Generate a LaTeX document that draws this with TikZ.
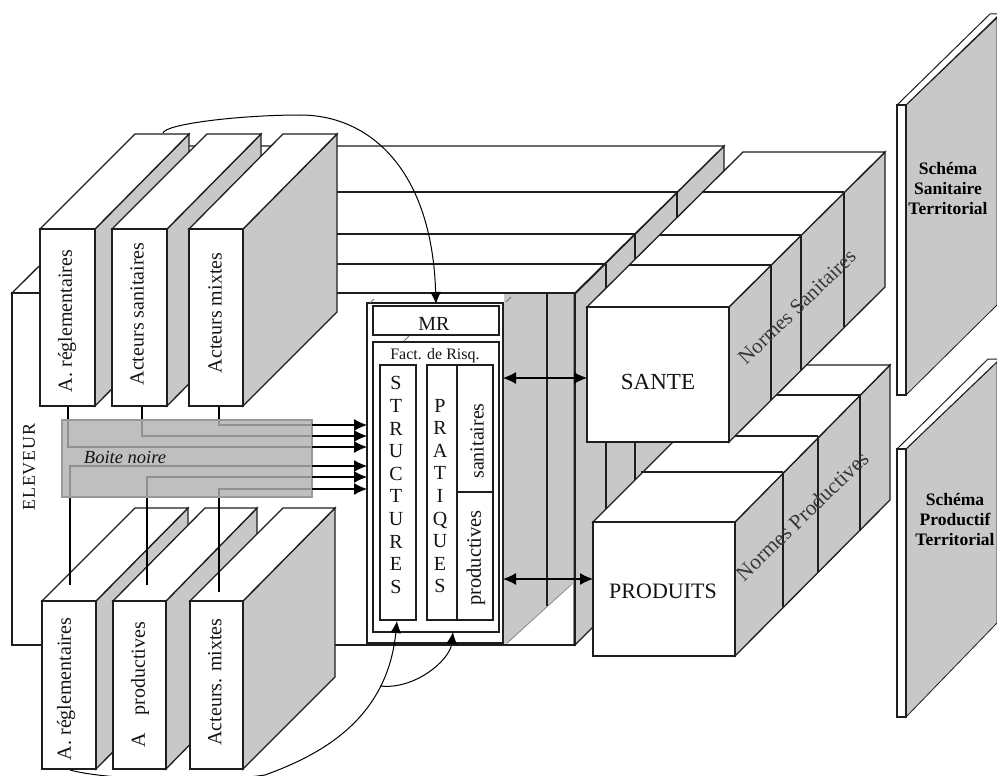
\documentclass[tikz,border=0pt]{standalone}
\usepackage{fontspec}
\setmainfont{Liberation Serif}
\usetikzlibrary{fit,arrows.meta}
\definecolor{facegrey}{RGB}{200,200,200}
\definecolor{edgeblack}{RGB}{30,30,30}
\tikzset{
  edge/.style={draw=edgeblack,line width=1.3pt,line join=miter},
  face/.style={edge,fill=facegrey},
  topface/.style={edge,fill=white},
  frontbox/.style={edge,fill=white,inner sep=0pt},
  mrbox/.style={draw=edgeblack,line width=1.5pt,fill=white,inner sep=0pt},
  wire/.style={draw=black,line width=1.2pt},
  inarrow/.style={wire,-{Latex[length=13pt,width=12pt]}},
  twoway/.style={wire,{Latex[length=13pt,width=12pt]}-{Latex[length=13pt,width=12pt]}},
  curve/.style={draw=black,line width=1pt},
  curvearrow/.style={curve,-{Latex[length=12pt,width=11pt]}},
  lab/.style={font=\fontsize{20}{22}\selectfont,inner sep=0pt,text=black!92},
  sidelab/.style={font=\fontsize{21}{23}\selectfont,inner sep=0pt,rotate=44,text=black!78},
  stack/.style={font=\fontsize{20}{22.6}\selectfont,inner sep=0pt,align=center,text=black!92},
  schema/.style={font=\fontsize{17.5}{20}\selectfont\bfseries,inner sep=0pt,align=center,text=black},
}
% name, fx1, fy1, fx2, fy2 (front), backx1, backy, backx2 (top), rightbottomy
\newcommand{\cuboid}[9]{%
  \draw[face] (#4,#3) -- (#8,#7) -- (#8,#9) -- (#4,#5) -- cycle;
  \draw[topface] (#2,#3) -- (#6,#7) -- (#8,#7) -- (#4,#3) -- cycle;
  \node[frontbox,fit={(#2,#3)(#4,#5)}] (#1) {};
}
\begin{document}
\begin{tikzpicture}[x=1pt,y=-1pt]
\useasboundingbox (0,0) rectangle (997,776);
\clip (0,0) rectangle (997,776);
\fill[white] (0,0) rectangle (997,776);

% ---------- rear stack (ELEVEUR block) ----------
\draw[face] (575,294) -- (724,146) -- (724,496) -- (575,645) -- cycle;
\foreach \x/\yt/\yb in {606/264/614,635/234/585,677/192/543}
  \draw[edge] (\x,\yt) -- (\x,\yb);
\draw[topface] (12,293) -- (160,146) -- (724,146) -- (575,293) -- cycle;
\foreach \y/\xa/\xb in {192/114/677,234/72/635,264/42/606}
  \draw[edge] (\xa,\y) -- (\xb,\y);
\node[frontbox,fit={(12,293)(575,645)}] (eleveur) {};
\fill[facegrey] (503.6,294) rectangle (574.4,644.4);
\fill[white] (507,644) -- (571,585) -- (574,585) -- (574,644) -- cycle;
\draw[draw=black!45,line width=.8pt] (507,643) -- (571,585);
\draw[draw=black!45,line width=1.4pt] (573.6,294) -- (573.6,644);
\draw[edge] (547,294) -- (547,606);
\draw[edge] (12,293) -- (575,293) -- (575,645) -- (12,645) -- cycle;

% ---------- Normes Productives ----------
\draw[face] (735,522) -- (890,365) -- (890,500) -- (735,656) -- cycle;
\draw[topface] (593,522) -- (750,365) -- (890,365) -- (735,522) -- cycle;
\foreach \x/\yt/\yb/\xa in {783/472/607/641,818/436/572/679,860/395/531/720}{
  \draw[edge] (\x,\yt) -- (\x,\yb);
  \draw[edge] (\xa,\yt) -- (\x,\yt);
}
\node[frontbox,fit={(593,522)(735,656)}] (produits) {};
\node[lab,font=\fontsize{22}{24}\selectfont] (produitslab) at (663,591) {PRODUITS};
\node[sidelab,font=\fontsize{21.5}{23}\selectfont] (normesprod) at (802,516) {Normes Productives};

% ---------- Normes Sanitaires ----------
\draw[face] (729,307) -- (885,152) -- (885,287) -- (729,442) -- cycle;
\draw[topface] (587,307) -- (743,152) -- (885,152) -- (729,307) -- cycle;
\foreach \x/\yt/\yb/\xa in {771/265/400/629,801/235/370/659,844/192/327/702}{
  \draw[edge] (\x,\yt) -- (\x,\yb);
  \draw[edge] (\xa,\yt) -- (\x,\yt);
}
\node[frontbox,fit={(587,307)(729,442)}] (sante) {};
\node[lab,font=\fontsize{23}{25}\selectfont] (santelab) at (658,382) {SANTE};
\node[sidelab] (normessan) at (797,307) {Normes Sanitaires};

% ---------- territorial schemes ----------
\fill[facegrey,draw=edgeblack,line width=.8pt] (906,105) -- (997,18) -- (997,305) -- (906,395) -- cycle;
\draw[topface,line width=1pt] (897,105) -- (990,14) -- (1000,14) -- (906,105) -- cycle;
\node[frontbox,fit={(897,105)(906,395)}] (ssan) {};
\node[schema] (ssanlab) at (948,189) {Schéma\\Sanitaire\\Territorial};
\fill[facegrey,draw=edgeblack,line width=.8pt] (906,449) -- (997,362) -- (997,623) -- (906,717) -- cycle;
\draw[topface,line width=1pt] (897,449) -- (988,359) -- (1000,359) -- (906,449) -- cycle;
\node[frontbox,fit={(897,449)(906,717)}] (spro) {};
\node[schema] (sprolab) at (955,520) {Schéma\\Productif\\Territorial};

% ---------- actors, top ----------
\cuboid{at1}{40}{229}{95}{406}{135}{134}{189}{311}
\cuboid{at2}{112}{229}{167}{406}{207}{134}{261}{311}
\cuboid{at3}{189}{229}{243}{406}{283}{134}{337}{312}
\node[lab,rotate=90] (at1l) at (67,321) {A. réglementaires};
\node[lab,rotate=90] (at2l) at (137,314) {Acteurs sanitaires};
\node[lab,rotate=90] (at3l) at (215,313) {Acteurs mixtes};

% ---------- actors, bottom ----------
\cuboid{ab1}{42}{601}{96}{769}{135}{508}{188}{676}
\cuboid{ab2}{113}{601}{166}{769}{205}{508}{257}{676}
\cuboid{ab3}{190}{601}{243}{769}{283}{508}{335}{677}
\node[lab,rotate=90] (ab1l) at (66,689) {A. réglementaires};
\node[lab,rotate=90] (ab2l) at (140,685) {A\hspace{.9em}productives};
\node[lab,rotate=90] (ab3l) at (215,682) {Acteurs. mixtes};

% ---------- central box ----------
\node[mrbox,fit={(367,303)(503,643)}] (central) {};
\draw[draw=black!55,line width=.8pt] (370,303) -- (374,299);
\draw[draw=black!55,line width=.8pt] (506,302) -- (511,297);
\node[mrbox,fit={(373,306)(499,335)}] (mr) {};
\node[mrbox,fit={(373,342)(499,632)}] (fact) {};
\draw[draw=black!55,line width=.8pt] (404,341) -- (409,336);
\node[lab] (mrlab) at (434,324) {MR};
\node[lab,font=\fontsize{16}{18}\selectfont] (factlab) at (435,356) {Fact. de Risq.};
\node[mrbox,fit={(380,365)(416,620)}] (struct) {};
\node[mrbox,fit={(427,365)(457,620)}] (prat) {};
\node[mrbox,fit={(457,365)(493,492)}] (san) {};
\node[mrbox,fit={(457,492)(493,620)}] (prod) {};
\node[stack] (structlab) at (396,485) {S\\T\\R\\U\\C\\T\\U\\R\\E\\S};
\node[stack] (pratlab) at (440,496) {P\\R\\A\\T\\I\\Q\\U\\E\\S};
\node[lab,rotate=90] (sanlab) at (477,441) {sanitaires};
\node[lab,rotate=90,font=\fontsize{20.5}{22}\selectfont] (prodlab) at (476,558) {productives};

% ---------- wires through the black box ----------
\foreach \n/\y in {1/425,2/436,3/447,4/466,5/477,6/489}
  \coordinate (in\n) at (367,\y);
\coordinate (w1) at (68,447);
\coordinate (w2) at (142,436);
\coordinate (w3) at (219,425);
\coordinate (w4) at (70,466);
\coordinate (w5) at (147,477);
\coordinate (w6) at (219,489);
\coordinate (b1) at (70,585);
\coordinate (b2) at (147,585);
\coordinate (b3) at (219,592);
\draw[wire] (at1.south -| w1) -- (w1) -- (312,447);
\draw[wire] (at2.south -| w2) -- (w2) -- (312,436);
\draw[wire] (at3.south -| w3) -- (w3) -- (312,425);
\draw[wire] (b1) -- (w4) -- (312,466);
\draw[wire] (b2) -- (w5) -- (312,477);
\draw[wire] (b3) -- (w6) -- (312,489);

\node[fill=black!30,fill opacity=.82,draw=black!40,line width=1.2pt,inner sep=0pt,fit={(62,420)(312,497)}] (boite) {};
\node[lab,font=\fontsize{18.5}{20}\selectfont\itshape] (boitelab) at (125,457) {Boite noire};
\foreach \n/\y in {1/425,2/436,3/447,4/466,5/477,6/489}
  \draw[inarrow] (312,\y) -- (in\n);

\node[lab,rotate=90,font=\fontsize{18}{20}\selectfont\addfontfeature{LetterSpace=4}] (elev) at (29,467) {ELEVEUR};

% ---------- double arrows ----------
\coordinate (dl1) at (503,378);
\coordinate (dr1) at (587,378);
\coordinate (dl2) at (503,579);
\coordinate (dr2) at (593,579);
\draw[twoway] (dl1) -- (dr1);
\draw[twoway] (dl2) -- (dr2);

% ---------- curves ----------
\coordinate (cs1) at (163,133);
\coordinate (ct1) at (436,304);
\draw[curvearrow] (cs1) .. controls (165,124) and (240,115) .. (300,115)
   .. controls (370,115) and (432,170) .. (ct1);
\coordinate (cs2) at (70,770);
\coordinate (ct2) at (397,621);
\coordinate (cb) at (380,686);
\coordinate (ct3) at (453,632);
\draw[curvearrow] (cs2) .. controls (110,781) and (220,782) .. (265,775)
   .. controls (320,755) and (387,720) .. (ct2);
\draw[curvearrow] (cb) .. controls (415,690) and (450,660) .. (ct3);
\end{tikzpicture}
\end{document}
